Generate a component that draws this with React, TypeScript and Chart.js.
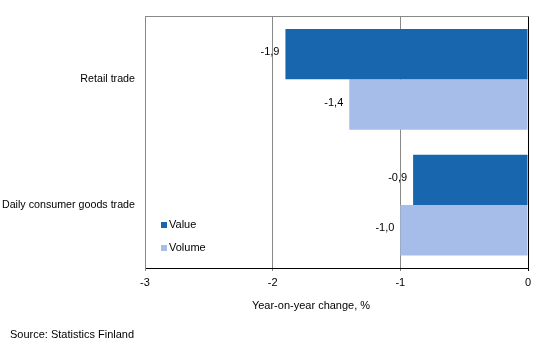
import React, { useEffect, useRef } from "react";
import { Chart, registerables } from "chart.js";

Chart.register(...registerables);

const categories = ["Retail trade", "Daily consumer goods trade"];
const valueSeries = [-1.9, -0.9];
const volumeSeries = [-1.4, -1.0];
const seriesNames = ["Value", "Volume"];
const xTicks = [-3, -2, -1, 0];
const xTitle = "Year-on-year change, %";
const sourceText = "Source: Statistics Finland";

const DARK = "#1766AE";
const LIGHT = "#A7BDE9";
const FONT = "Liberation Sans, Arial, sans-serif";

export default function App() {
  const ref = useRef<HTMLCanvasElement | null>(null);
  useEffect(() => {
    document.body.style.margin = "0";
    const extras = {
      id: "extras",
      afterDatasetsDraw(chart: any) {
        const ctx = chart.ctx;
        const ca = chart.chartArea;
        ctx.save();
        // top border
        ctx.strokeStyle = "#888";
        ctx.lineWidth = 1;
        ctx.beginPath();
        ctx.moveTo(ca.left, Math.round(ca.top) + 0.5);
        ctx.lineTo(ca.right, Math.round(ca.top) + 0.5);
        ctx.stroke();
        // data labels
        ctx.font = "11px " + FONT;
        ctx.fillStyle = "#000";
        ctx.textAlign = "right";
        ctx.textBaseline = "middle";
        chart.data.datasets.forEach((ds: any, di: number) => {
          const meta = chart.getDatasetMeta(di);
          meta.data.forEach((bar: any, i: number) => {
            const v = ds.data[i] as number;
            const txt = v.toFixed(1).replace(".", ",");
            ctx.fillText(txt, bar.x - 6, bar.y - 2);
          });
        });
        // legend
        const lx = 161;
        const ly = [225, 248];
        chart.data.datasets.forEach((ds: any, di: number) => {
          ctx.fillStyle = ds.backgroundColor;
          ctx.fillRect(lx, ly[di] - 3, 6, 6);
          ctx.fillStyle = "#000";
          ctx.textAlign = "left";
          ctx.fillText(ds.label, lx + 8, ly[di]);
        });
        // axis title
        ctx.textAlign = "center";
        ctx.fillText(xTitle, 311, 306);
        // source
        ctx.textAlign = "left";
        ctx.fillText(sourceText, 10, 335);
        ctx.restore();
      },
    };
    const chart = new Chart(ref.current!, {
      type: "bar",
      data: {
        labels: categories,
        datasets: [
          { label: seriesNames[0], data: valueSeries, backgroundColor: DARK },
          { label: seriesNames[1], data: volumeSeries, backgroundColor: LIGHT },
        ],
      },
      options: {
        indexAxis: "y",
        animation: false,
        responsive: false,
        events: [],
        layout: { padding: { top: 15, right: 11, left: 0, bottom: 0 } },
        datasets: { bar: { categoryPercentage: 0.8, barPercentage: 1.0 } },
        plugins: { legend: { display: false }, tooltip: { enabled: false } },
        scales: {
          x: {
            min: -3,
            max: 0,
            afterBuildTicks: (s: any) => {
              s.ticks = xTicks.map((v) => ({ value: v }));
            },
            afterFit: (s: any) => {
              s.height = 95;
            },
            grid: {
              color: (c: any) => (c.tick && c.tick.value === 0 ? "#000" : "#888"),
              tickLength: 3,
              lineWidth: 1,
            },
            border: { color: "#000", width: 1 },
            ticks: {
              color: "#000",
              font: { family: FONT, size: 11 },
              padding: 5,
              callback: (v: any) => String(v),
            },
          },
          y: {
            afterFit: (s: any) => {
              s.width = 145;
            },
            grid: { display: false, drawTicks: false, tickLength: 0 },
            border: { color: "#888", width: 1 },
            ticks: {
              color: "#000",
              font: { family: FONT, size: 10.7 },
              padding: 10,
            },
          },
        },
      },
      plugins: [extras],
    });
    return () => chart.destroy();
  }, []);
  return (
    <div style={{ position: "absolute", left: 0, top: 0, width: 539, height: 363 }}>
      <canvas ref={ref} width={539} height={363} style={{ width: 539, height: 363 }} />
    </div>
  );
}
